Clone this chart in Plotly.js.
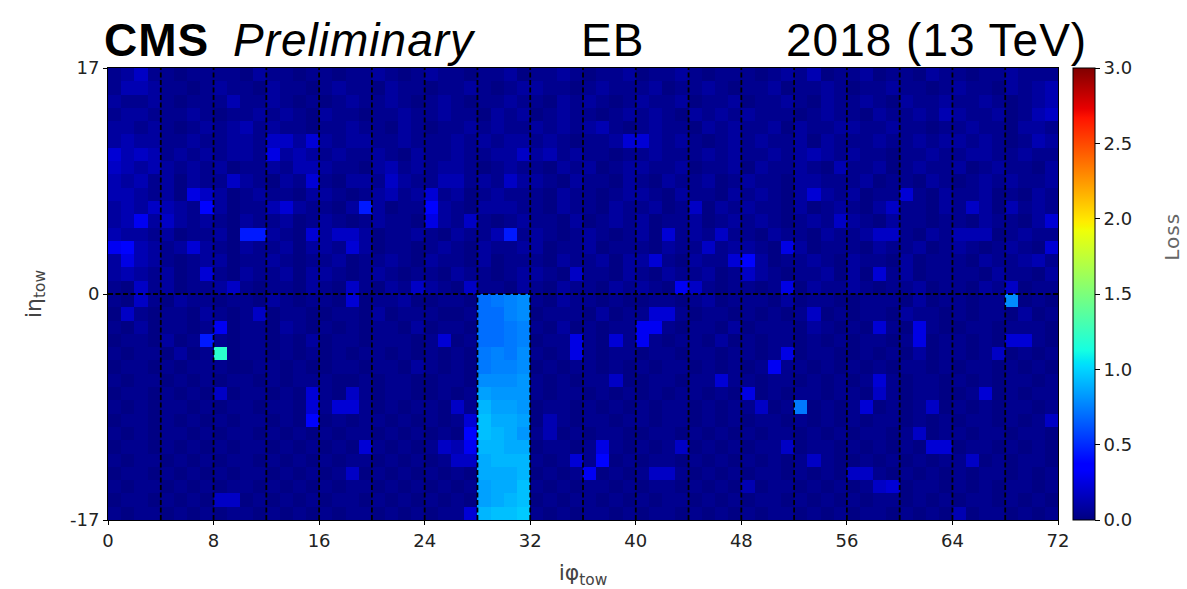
<!DOCTYPE html>
<html>
<head>
<meta charset="utf-8">
<script src="https://cdn.plot.ly/plotly-3.0.1.min.js"></script>
<style>
  html, body { margin: 0; padding: 0; background: #fff; }
  #chart { width: 1187px; height: 589px; }
  .annotation-text { letter-spacing: 1px; }
</style>
</head>
<body>
<div id="chart"></div>
<script>
// ---- DATA ----
// Loss per trigger tower: rows from ieta = +16 (top) down to ieta = -17 (bottom),
// 72 iphi columns each, written as level codes (groups of 8 columns).
const lossLevelCodes = {
  '0': 0.01, '1': 0.04, '2': 0.08, '3': 0.13, '4': 0.18, '5': 0.22, '6': 0.26,
  '7': 0.30, '8': 0.38, '9': 0.45,
  'b': 0.70, 'c': 0.73, 'd': 0.76, 'e': 0.79, 'f': 0.82, 'g': 0.85,
  'h': 0.88, 'i': 0.91, 'j': 0.94, 'k': 0.97, 'x': 1.20
};
const lossRowsTopToBottom = [
  "12411011 11021101 10112101 21101120 11210112 01121011 10121301 12011021 10112111",
  "13321101 21102110 12110211 01121012 21101211 12011210 11201121 01121101 21102123",
  "21121011 13112101 01211210 12101121 10212101 21120112 01121021 12102112 11210123",
  "12211121 01121210 21101121 12110212 01211012 12102121 21110121 10211213 21120134",
  "22121012 12312110 11211021 01121211 21212310 12110212 11202112 21121101 12110221",
  "23221121 12214425 21221121 11212122 12101125 52121012 12112021 11211212 21210132",
  "53431212 12216232 12112102 11211224 23121101 12111212 11212321 21101121 12211211",
  "43232121 20112133 21102312 12210121 10212012 21120112 02112103 11201211 20121102",
  "32312021 14210215 10221421 13312142 21021102 10211201 21102211 12011021 01212112",
  "33212064 20121102 21012312 51201211 10211012 21021102 12102521 20115102 11201021",
  "23243218 20113521 10292011 82102221 10211021 12014021 21102012 10241102 14203121",
  "23724212 10211201 21012110 62141012 11020121 20112012 12101214 21021101 10211025",
  "32212011 20992105 24420112 10211391 21012101 20512141 10211021 12441021 33301211",
  "78321252 10211202 21520110 12102112 20112011 10211412 21062011 10211201 21012105",
  "26321012 20112101 12011210 21102011 10211202 25102115 82011210 21102011 10211231",
  "23212015 10211202 21012101 10211012 21041102 10211201 42101120 20512011 11021102",
  "10412011 24101102 10410214 21041102 10211021 21074101 10160211 21011201 10214011",
  "10410211 01102101 10501120 0110bcde 10211010 01101201 11020110 01110201 1011e010",
  "04101102 10140110 01102011 1001bbde 01110201 15510110 10101401 01102110 10110201",
  "10201101 70110210 10101102 0110bbcd 10201011 77101102 01110210 10510610 01101110",
  "01102019 10110102 01101110 1501bbcd 01161051 71011020 10110101 01101601 10105510",
  "10110201 x0110101 01011010 1010cdce 10161011 01101101 10160110 01010201 10140101",
  "01101011 10011010 01101102 1010cdde 01011010 10110101 01711010 10101101 01101010",
  "10110101 01101011 10010110 0110eeef 10101140 01101151 10110101 01510110 10101101",
  "01101010 40110105 10410110 0101gfff 10110101 01011010 60101101 10410110 01501011",
  "10101101 01101105 15510101 1041iggf 01101010 10110101 1401c010 15010140 10101101",
  "01101010 10110108 01011010 1015jhhg 03101101 10110101 01101010 10110101 01101014",
  "10101101 01101010 10110101 0108jihf 13010110 01101010 10110101 01101401 10110110",
  "01101010 10110101 01051010 1437iihh 01101610 10140101 01140110 10101055 01101010",
  "10110101 01101010 10110101 0144hiii 10151801 01101010 10101410 01010101 14010110",
  "01101010 10110101 01401010 1010hhhi 01017010 14410101 01101010 44101010 10110101",
  "10110101 01101010 10110101 0101ghhj 10101101 01101010 30110101 01450110 10101101",
  "01101010 44010101 01101010 1010ghij 01011010 10110101 01101010 10110101 01101010",
  "10110101 01101010 10110101 0115ijjk 10101101 01101010 10110101 01101010 30110101"
];
const iphiTickVals = [0, 8, 16, 24, 32, 40, 48, 56, 64, 72];
const ietaTickVals = [-17, 0, 17];
const ietaTickText = ['-17', '0', '17'];
const lossTickVals = [0, 0.5, 1.0, 1.5, 2.0, 2.5, 3.0];
const lossTickText = ['0.0', '0.5', '1.0', '1.5', '2.0', '2.5', '3.0'];
const iphiRange = [0, 72];
const ietaRange = [-17, 17];
const supermoduleWidth = 4; // dashed boundaries every 4 iphi towers

// ---- BUILD ----
const zTopToBottom = lossRowsTopToBottom.map(r =>
  r.replace(/ /g, '').split('').map(ch => lossLevelCodes[ch]));
const z = zTopToBottom.slice().reverse(); // first row = ieta -17

// matplotlib "jet"
const jet = [
  [0.0, 'rgb(0,0,128)'], [0.11, 'rgb(0,0,255)'], [0.125, 'rgb(0,0,255)'],
  [0.34, 'rgb(0,219,255)'], [0.35, 'rgb(0,230,247)'], [0.375, 'rgb(21,255,226)'],
  [0.64, 'rgb(239,255,8)'], [0.65, 'rgb(247,245,0)'], [0.66, 'rgb(255,236,0)'],
  [0.89, 'rgb(255,19,0)'], [0.91, 'rgb(232,0,0)'], [1.0, 'rgb(128,0,0)']
];

const trace = {
  type: 'heatmap',
  z: z,
  x0: iphiRange[0] + 0.5, dx: 1,
  y0: ietaRange[0] + 0.5, dy: 1,
  zmin: 0, zmax: 3,
  colorscale: jet,
  zsmooth: false,
  colorbar: {
    x: 1.0158, xanchor: 'left', xpad: 0,
    y: 0.5, yanchor: 'middle', ypad: 0,
    len: 1, lenmode: 'fraction',
    thickness: 22, thicknessmode: 'pixels',
    outlinewidth: 1, outlinecolor: '#000',
    ticks: 'outside', ticklen: 5, tickcolor: '#000', tickwidth: 1,
    tickvals: lossTickVals, ticktext: lossTickText,
    tickfont: { family: 'DejaVu Sans', size: 18, color: '#222' }
  }
};

const shapes = [];
for (let p = iphiRange[0] + supermoduleWidth; p < iphiRange[1]; p += supermoduleWidth) {
  shapes.push({ type: 'line', xref: 'x', yref: 'y', x0: p, x1: p, y0: ietaRange[0], y1: ietaRange[1],
    line: { color: '#000', width: 1.8, dash: '5px,2.5px' } });
}
shapes.push({ type: 'line', xref: 'x', yref: 'y', x0: iphiRange[0], x1: iphiRange[1], y0: 0, y1: 0,
  line: { color: '#000', width: 1.8, dash: '5px,2.5px' } });

const titleFont = { family: 'Liberation Sans, Arial, Helvetica, sans-serif', size: 46, color: '#000' };
const yTitle = 1.062;
const annotations = [
  { text: '<b>CMS</b>', x: -0.0053, y: yTitle, xanchor: 'left', yanchor: 'middle' },
  { text: '<i>Preliminary</i>', x: 0.1305, y: yTitle, xanchor: 'left', yanchor: 'middle' },
  { text: 'EB', x: 0.4968, y: yTitle, xanchor: 'left', yanchor: 'middle' },
  { text: '2018 (13 TeV)', x: 0.7126, y: yTitle, xanchor: 'left', yanchor: 'middle' }
].map(a => Object.assign({ xref: 'paper', yref: 'paper', showarrow: false, font: titleFont, borderpad: 0 }, a));
// colour-bar label
annotations.push({
  text: 'Loss', xref: 'paper', yref: 'paper', x: 1.105, y: 0.626,
  xanchor: 'left', yanchor: 'middle', textangle: -90, showarrow: false,
  font: { family: 'DejaVu Sans', size: 20, color: '#666' }
});

const axisCommon = {
  showline: true, linecolor: '#000', linewidth: 1, mirror: true,
  showgrid: false, zeroline: false,
  ticks: 'outside', ticklen: 4, tickcolor: '#000', tickwidth: 1,
  tickfont: { family: 'DejaVu Sans', size: 18, color: '#222' }
};

const layout = {
  width: 1187, height: 589,
  margin: { l: 108, r: 129, t: 68, b: 69 },
  paper_bgcolor: '#fff', plot_bgcolor: '#fff',
  xaxis: Object.assign({}, axisCommon, {
    range: iphiRange, tickmode: 'array', tickvals: iphiTickVals,
    title: { text: 'iφ<sub>tow</sub>', standoff: 16, font: { family: 'DejaVu Sans', size: 22, color: '#444' } }
  }),
  yaxis: Object.assign({}, axisCommon, {
    range: ietaRange, tickmode: 'array', tickvals: ietaTickVals, ticktext: ietaTickText,
    title: { text: 'iη<sub>tow</sub>', standoff: 22, font: { family: 'DejaVu Sans', size: 22, color: '#444' } }
  }),
  shapes: shapes,
  annotations: annotations,
  showlegend: false
};

Plotly.newPlot('chart', [trace], layout, { displayModeBar: false, staticPlot: true });
</script>
</body>
</html>
